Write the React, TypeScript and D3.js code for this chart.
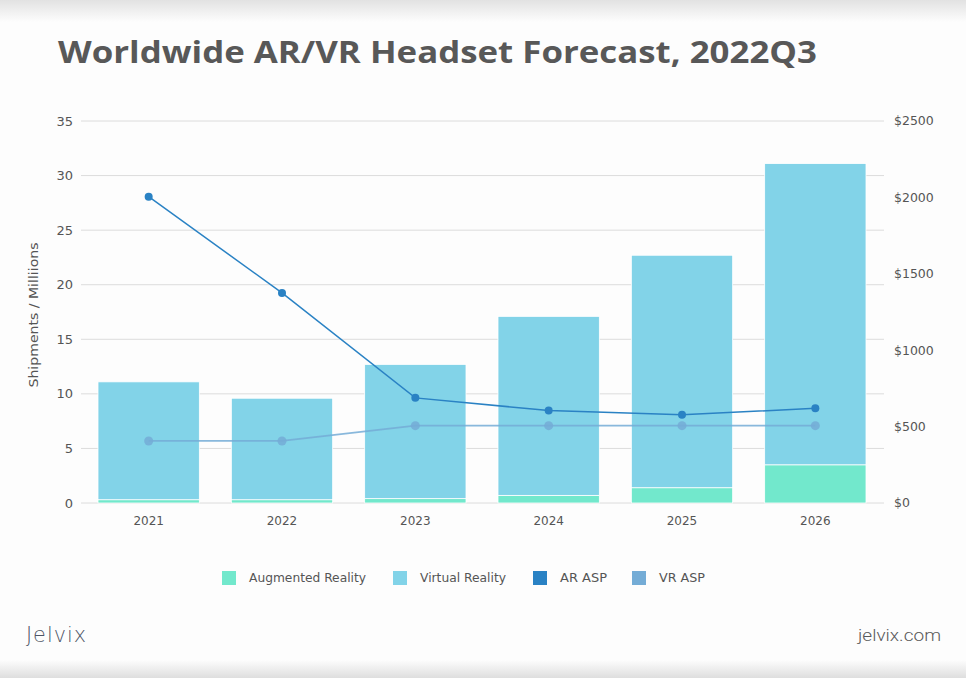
import React from "react";
import * as d3 from "d3";

const years = ["2021", "2022", "2023", "2024", "2025", "2026"];
const arShipments = [0.3, 0.3, 0.4, 0.7, 1.4, 3.5];
const vrShipments = [10.8, 9.3, 12.3, 16.4, 21.3, 27.6];
const arASP = [2005, 1375, 688, 605, 577, 620];
const vrASP = [406, 406, 506, 506, 506, 506];
const leftTicks = [0, 5, 10, 15, 20, 25, 30, 35];
const rightTicks = [0, 500, 1000, 1500, 2000, 2500];
const legendItems = ["Augmented Reality", "Virtual Reality", "AR ASP", "VR ASP"];

const W = 966, H = 678;
const C_AR = "#72e8cc", C_VR = "#82d3e8", C_ARASP = "#2a82c4", C_VRASP = "#74acd6";
const FONT = "'DejaVu Sans', 'Open Sans', sans-serif";
const TXT = "#555";

export default function App() {
  const x = d3.scaleBand<string>().domain(years).range([82, 882]).paddingInner(0.24).paddingOuter(0.12);
  const yL = d3.scaleLinear().domain([0, 35]).range([503, 121]);
  const yR = d3.scaleLinear().domain([0, 2500]).range([503, 121]);
  const cx = (y: string) => (x(y) as number) + x.bandwidth() / 2;
  const line = d3.line<number>().x((_, i) => cx(years[i])).y((d) => yR(d));
  const legendX = [222, 393, 533, 632];
  const legendTextW = [117, 86, 47, 46];
  const legendColors = [C_AR, C_VR, C_ARASP, C_VRASP];

  return (
    <svg width={W} height={H} style={{ position: "absolute", left: 0, top: 0, fontFamily: FONT }}>
      <defs>
        <linearGradient id="top" x1="0" y1="0" x2="0" y2="1">
          <stop offset="0" stopColor="#e2e2e2" />
          <stop offset="1" stopColor="#fdfdfd" />
        </linearGradient>
        <linearGradient id="bot" x1="0" y1="0" x2="0" y2="1">
          <stop offset="0" stopColor="#fdfdfd" />
          <stop offset="1" stopColor="#dedede" />
        </linearGradient>
      </defs>
      <rect width={W} height={H} fill="#fdfdfd" />
      <rect width={W} height={22} fill="url(#top)" />
      <rect y={660} width={W} height={18} fill="url(#bot)" />

      <text x={58} y={63} fontSize={31} fontWeight={700} fill="#585858" fontFamily="'Open Sans', sans-serif" textLength={759} lengthAdjust="spacingAndGlyphs">
        Worldwide AR/VR Headset Forecast, 2022Q3
      </text>

      {leftTicks.map((t) => (
        <g key={"l" + t}>
          <line x1={81} x2={884} y1={yL(t)} y2={yL(t)} stroke="#dcdcdc" strokeWidth={1} />
          <text x={73} y={yL(t)} dy="0.35em" textAnchor="end" fontSize={13} fill={TXT}>{t}</text>
        </g>
      ))}
      {rightTicks.map((t) => (
        <text key={"r" + t} x={894} y={yR(t)} dy="0.35em" fontSize={12.5} fill={TXT}>{"$" + t}</text>
      ))}

      <text transform={`translate(38,315) rotate(-90)`} textAnchor="middle" fontSize={12} fill={TXT} textLength={145} lengthAdjust="spacingAndGlyphs">
        Shipments / Milliions
      </text>

      {years.map((y, i) => {
        const bx = x(y) as number;
        const bw = x.bandwidth();
        return (
          <g key={y}>
            <rect x={bx} y={yL(arShipments[i])} width={bw} height={yL(0) - yL(arShipments[i])} fill={C_AR} stroke="#fff" strokeWidth={0.8} />
            <rect x={bx} y={yL(arShipments[i] + vrShipments[i])} width={bw} height={yL(arShipments[i]) - yL(arShipments[i] + vrShipments[i])} fill={C_VR} stroke="#fff" strokeWidth={0.8} />
            <text x={cx(y)} y={521} dy="0.35em" textAnchor="middle" fontSize={12} fill={TXT}>{y}</text>
          </g>
        );
      })}

      <path d={line(vrASP) as string} fill="none" stroke={C_VRASP} strokeWidth={1.8} opacity={0.85} />
      {vrASP.map((v, i) => (
        <circle key={"vp" + i} cx={cx(years[i])} cy={yR(v)} r={4.5} fill={C_VRASP} opacity={0.85} />
      ))}
      <path d={line(arASP) as string} fill="none" stroke={C_ARASP} strokeWidth={1.5} />
      {arASP.map((v, i) => (
        <circle key={"ap" + i} cx={cx(years[i])} cy={yR(v)} r={4} fill={C_ARASP} />
      ))}

      {legendItems.map((l, i) => (
        <g key={l}>
          <rect x={legendX[i]} y={571} width={14} height={14} fill={legendColors[i]} />
          <text x={legendX[i] + 27} y={578} dy="0.35em" fontSize={12.5} fill={TXT} textLength={legendTextW[i]} lengthAdjust="spacingAndGlyphs">{l}</text>
        </g>
      ))}

      <text x={26} y={642} fontSize={21} fill="#4d5566" fontFamily="'DejaVu Sans', sans-serif" fontWeight={300} letterSpacing={1} textLength={61} lengthAdjust="spacingAndGlyphs">Jelvix</text>
      <text x={941} y={641} textAnchor="end" fontSize={17} fill="#5a5a5a" fontFamily="'Roboto', sans-serif" fontWeight={300} textLength={83} lengthAdjust="spacingAndGlyphs">jelvix.com</text>
    </svg>
  );
}
